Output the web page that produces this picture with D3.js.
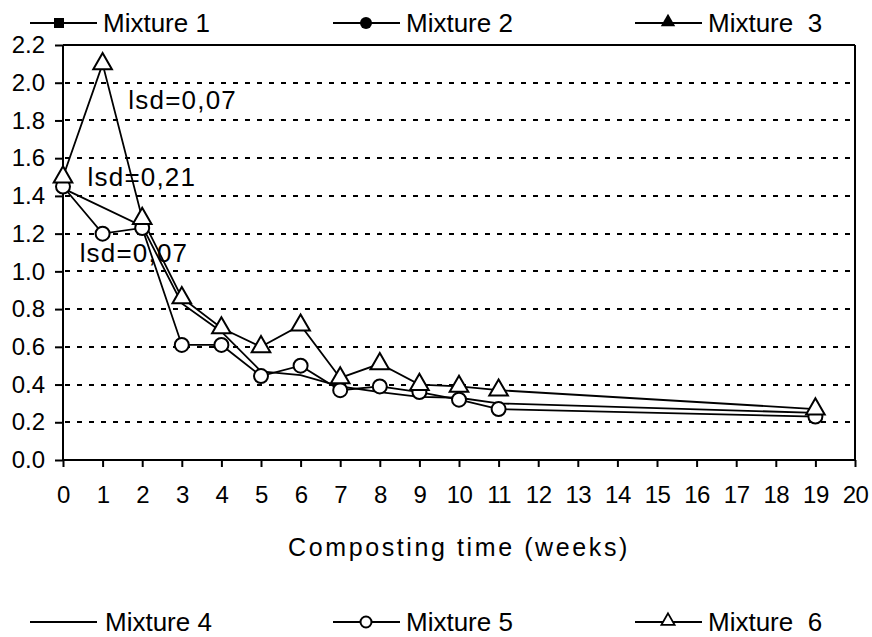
<!DOCTYPE html>
<html><head><meta charset="utf-8">
<script src="https://cdn.jsdelivr.net/npm/d3@7/dist/d3.min.js"></script>
<style>
html,body{margin:0;padding:0;background:#fff;}
svg{display:block;font-family:"Liberation Sans",Arial,sans-serif;}
text{white-space:pre;fill:#000;}
</style></head>
<body><svg id="c" width="872" height="637"></svg>
<script>
const weeks    = [0, 1, 2, 3, 4, 5, 6, 7, 8, 9, 10, 11, 19];
const mixture4 = [1.44, null, 1.24, 0.83, 0.68, 0.47, 0.45, 0.39, 0.36, 0.335, 0.33, 0.30, 0.25];
const mixture5 = [1.45, 1.20, 1.23, 0.61, 0.61, 0.445, 0.50, 0.37, 0.39, 0.36, 0.32, 0.27, 0.23];
const mixture6 = [1.50, 2.10, 1.28, 0.86, 0.70, 0.60, 0.715, 0.435, 0.51, 0.40, 0.39, 0.37, 0.27];
const xTicks = d3.range(0, 21);
const yTicks = [0, 0.2, 0.4, 0.6, 0.8, 1.0, 1.2, 1.4, 1.6, 1.8, 2.0, 2.2];
const topLegend = ["Mixture 1", "Mixture 2", "Mixture  3"];
const bottomLegend = ["Mixture 4", "Mixture 5", "Mixture  6"];
const annotations = [{t:"lsd=0,07", w:1.65, v:1.86}, {t:"lsd=0,21", w:0.62, v:1.45}, {t:"lsd=0,07", w:0.42, v:1.05}];
const xTitle = "Composting time (weeks)";

const svg = d3.select("#c");
const L = 63, R = 855, T = 45, B = 460;
const x = d3.scaleLinear().domain([0, 20]).range([L, R]);
const y = d3.scaleLinear().domain([0, 2.2]).range([B, T]);

// gridlines
svg.append("g").selectAll("line").data(yTicks.filter(v => v > 0 && v < 2.2)).join("line")
  .attr("x1", L + 2).attr("x2", R).attr("y1", d => Math.round(y(d))).attr("y2", d => Math.round(y(d)))
  .attr("stroke", "#000").attr("stroke-width", 2).attr("stroke-dasharray", "5,7");

// frame top and right
svg.append("line").attr("x1", L).attr("x2", R).attr("y1", T).attr("y2", T).attr("stroke", "#000").attr("stroke-width", 2);
svg.append("line").attr("x1", R).attr("x2", R).attr("y1", T).attr("y2", B).attr("stroke", "#000").attr("stroke-width", 2);

// axes
const yAxis = svg.append("g").attr("transform", `translate(${L},0)`)
  .call(d3.axisLeft(y).tickValues(yTicks).tickFormat(d3.format(".1f")).tickSize(8).tickPadding(10));
const xAxis = svg.append("g").attr("transform", `translate(0,${B})`)
  .call(d3.axisBottom(x).tickValues(xTicks).tickFormat(d3.format("d")).tickSize(7).tickPadding(19));
[yAxis, xAxis].forEach(a => {
  a.select(".domain").attr("stroke", "#000").attr("stroke-width", 2);
  a.selectAll(".tick line").attr("stroke", "#000").attr("stroke-width", 2);
  a.selectAll("text").attr("font-size", 24).attr("font-family", "Liberation Sans, Arial, sans-serif").attr("fill", "#000");
});
yAxis.select(".domain").attr("d", `M0,${B}V${T}`);
xAxis.select(".domain").attr("d", `M${L},0H${R}`);
xAxis.selectAll("text").attr("letter-spacing", -0.5);

// series
const line = d3.line().x(d => x(d[0])).y(d => y(d[1]));
function pts(vals){ return weeks.map((w,i)=>[w, vals[i]]).filter(d => d[1] != null); }
const tri = d3.symbol().type(d3.symbolTriangle).size(150);

[mixture4, mixture5, mixture6].forEach(s => {
  svg.append("path").datum(pts(s)).attr("d", line).attr("fill", "none")
    .attr("stroke", "#000").attr("stroke-width", 1.8);
});
svg.append("g").selectAll("circle").data(pts(mixture5)).join("circle")
  .attr("cx", d => x(d[0])).attr("cy", d => y(d[1])).attr("r", 7)
  .attr("fill", "#fff").attr("stroke", "#000").attr("stroke-width", 2);
svg.append("g").selectAll("path").data(pts(mixture6)).join("path")
  .attr("d", tri).attr("transform", d => `translate(${x(d[0])},${y(d[1])})`)
  .attr("fill", "#fff").attr("stroke", "#000").attr("stroke-width", 2);

// annotations
svg.append("g").selectAll("text").data(annotations).join("text")
  .attr("x", d => x(d.w)).attr("y", d => y(d.v)).attr("font-size", 26)
  .attr("letter-spacing", 1.2).text(d => d.t);

// x title
svg.append("text").attr("x", (L + R) / 2).attr("y", 556).attr("text-anchor", "middle")
  .attr("font-size", 25).attr("letter-spacing", 2.6).text(xTitle);

// legends
const legX = [30, 333, 635];
function legend(names, yy, kinds){
  names.forEach((n, i) => {
    const g = svg.append("g").attr("transform", `translate(${legX[i]},${yy})`);
    g.append("line").attr("x1", 0).attr("x2", 67).attr("stroke", "#000").attr("stroke-width", 2);
    const k = kinds[i];
    if (k === "sq") g.append("rect").attr("x", 29 - 5).attr("y", -5).attr("width", 10).attr("height", 10).attr("fill", "#000");
    if (k === "fc") g.append("circle").attr("cx", 33).attr("r", 6).attr("fill", "#000");
    if (k === "ft") g.append("path").attr("d", d3.symbol().type(d3.symbolTriangle).size(90)()).attr("transform", "translate(33,-1)").attr("fill", "#000");
    if (k === "oc") g.append("circle").attr("cx", 33).attr("r", 5.5).attr("fill", "#fff").attr("stroke", "#000").attr("stroke-width", 2);
    if (k === "ot") g.append("path").attr("d", d3.symbol().type(d3.symbolTriangle).size(75)()).attr("transform", "translate(33,-1)").attr("fill", "#fff").attr("stroke", "#000").attr("stroke-width", 1.8);
    g.append("text").attr("x", k === "none" ? 75 : 73).attr("y", 9).attr("font-size", 26).text(n);
  });
}
legend(topLegend, 23, ["sq", "fc", "ft"]);
legend(bottomLegend, 622, ["none", "oc", "ot"]);
</script></body></html>
